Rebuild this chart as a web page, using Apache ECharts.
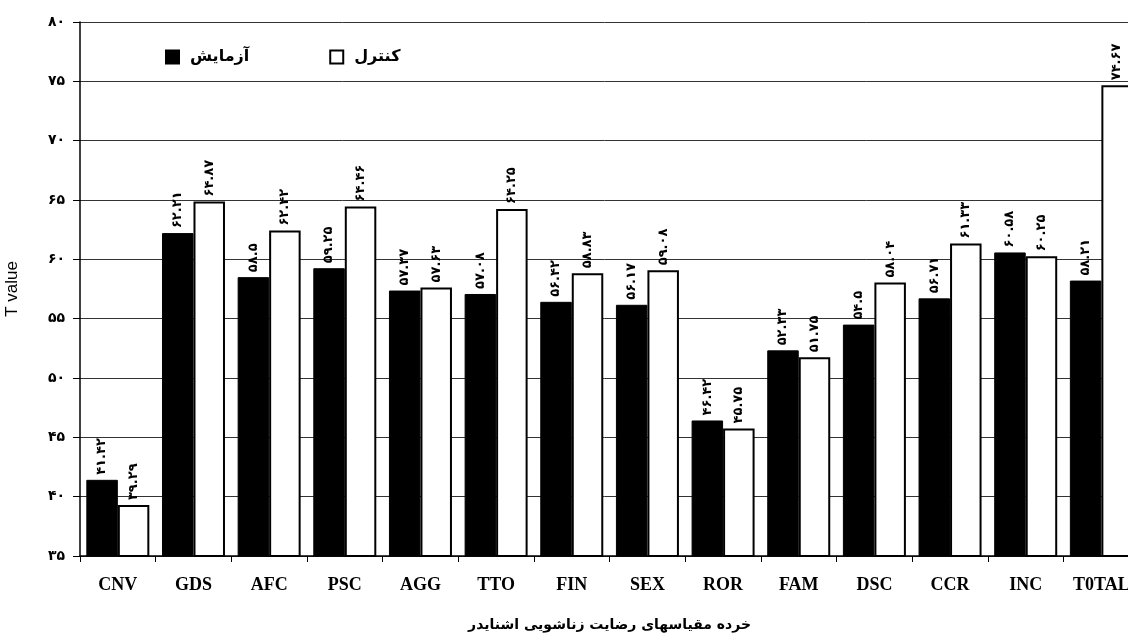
<!DOCTYPE html>
<html>
<head>
<meta charset="utf-8">
<script src="https://cdn.jsdelivr.net/npm/echarts@6/dist/echarts.min.js"></script>
<style>
html,body{margin:0;padding:0;background:#fff;overflow:hidden;}
#c{width:1128px;height:636px;}
</style>
</head>
<body>
<div id="c"></div>
<script>
var categories = ['CNV','GDS','AFC','PSC','AGG','TTO','FIN','SEX','ROR','FAM','DSC','CCR','INC','T0TAL'];
var experimentValues = [41.42, 62.21, 58.5, 59.25, 57.37, 57.08, 56.42, 56.17, 46.42, 52.33, 54.5, 56.71, 60.58, 58.21];
var controlValues = [39.29, 64.87, 62.42, 64.46, 57.63, 64.25, 58.83, 59.08, 45.75, 51.75, 58.04, 61.33, 60.25, 74.67];
var seriesNames = ['آزمایش', 'کنترل'];
var yTicks = [35, 40, 45, 50, 55, 60, 65, 70, 75, 80];
var yAxisTitle = 'T value';
var xAxisTitle = 'خرده مقیاسهای رضایت زناشویی اشنایدر';

var fa = '۰۱۲۳۴۵۶۷۸۹';
function toFa(v){ return String(v).replace(/[0-9]/g, function(d){ return fa[+d]; }); }

var chart = echarts.init(document.getElementById('c'), null, {renderer:'canvas'});
var labelCfg = {
  show: true, position: 'top', rotate: 90, align: 'left', verticalAlign: 'middle',
  distance: 5, color: '#000', fontSize: 13, fontWeight: 'bold', fontFamily: 'DejaVu Sans',
  formatter: function(p){ return toFa(p.value); }
};
chart.setOption({
  animation: false,
  backgroundColor: '#fff',
  grid: {left: 80, top: 22, width: 1059.2, height: 534, containLabel: false, outerBoundsMode: 'none'},
  legend: {
    left: 160, top: 44, itemWidth: 13, itemHeight: 13, itemGap: 80, icon: 'rect',
    textStyle: {fontSize: 16, fontWeight: 'bold', color: '#000', fontFamily: 'DejaVu Sans', padding: [0,0,0,6]},
    data: seriesNames
  },
  xAxis: {
    type: 'category', data: categories,
    name: xAxisTitle, nameLocation: 'middle', nameGap: 62,
    nameTextStyle: {fontSize: 14, fontWeight: 'bold', color: '#000', fontFamily: 'DejaVu Sans'},
    axisLine: {lineStyle: {color: '#000', width: 1.5}},
    axisTick: {show: true, length: 6, interval: 0, lineStyle: {color: '#000'}},
    axisLabel: {interval: 0, margin: 20, fontSize: 18, fontWeight: 'bold', color: '#000', fontFamily: 'Liberation Serif'}
  },
  yAxis: {
    type: 'value', min: yTicks[0], max: yTicks[yTicks.length-1], interval: 5,
    name: yAxisTitle, nameLocation: 'middle', nameGap: 59, nameRotate: 90,
    nameTextStyle: {fontSize: 17, color: '#000', fontFamily: 'Liberation Sans'},
    axisLine: {show: true, lineStyle: {color: '#000', width: 1.5}},
    axisTick: {show: true, length: 7, lineStyle: {color: '#000'}},
    axisLabel: {margin: 15, fontSize: 14, fontWeight: 'bold', color: '#000', fontFamily: 'DejaVu Sans',
      formatter: function(v){ return toFa(v); }},
    splitLine: {show: true, lineStyle: {color: '#333', width: 1}}
  },
  series: [
    {name: seriesNames[0], type: 'bar', data: experimentValues, barWidth: 31.5, barGap: '0%',
     itemStyle: {color: '#000', borderColor: '#000', borderWidth: 1}, label: labelCfg},
    {name: seriesNames[1], type: 'bar', data: controlValues, barWidth: 31.5,
     itemStyle: {color: '#fff', borderColor: '#000', borderWidth: 2}, label: labelCfg}
  ]
});
</script>
</body>
</html>
